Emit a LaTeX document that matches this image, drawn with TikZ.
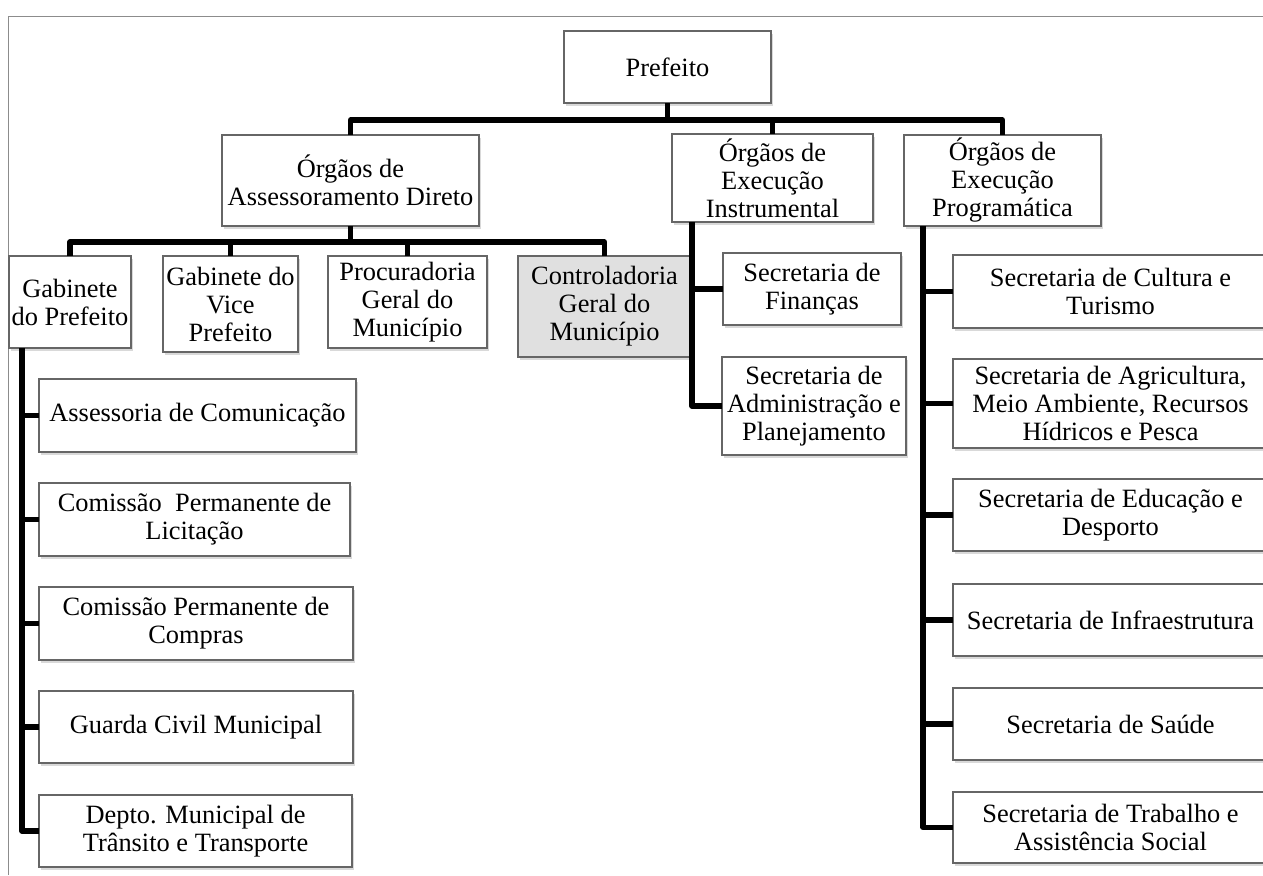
\documentclass[tikz,border=0pt]{standalone}
\usepackage{fontspec}
\setmainfont{Liberation Serif}
\usetikzlibrary{shadows}
\newcommand\orgbox[7][]{\node[box,#1, minimum width={(#5-#3)*0.5pt}, minimum height={(#6-#4)*0.5pt}] (#2) at ({(#3+#5)/2},{(#4+#6)/2}) {#7};}
\begin{document}
\begin{tikzpicture}[x=0.5pt,y=-0.5pt,
  box/.style={draw=black!60, line width=0.6pt, fill=white, align=center, inner sep=0pt, outer sep=0pt,
    font=\fontsize{13.2}{14}\selectfont,
    drop shadow={shadow xshift=1.2pt, shadow yshift=-1.3pt, opacity=0.3}},
  conn/.style={line width=2.6pt, line join=round},
  frame/.style={draw=black!45, line width=0.5pt}]
\useasboundingbox (0,0) rectangle (1263,875);
\draw[frame] (8,875) -- (8,16) -- (1263,16);

\orgbox{pref}{564}{31}{771}{103}{Prefeito}
\orgbox{ass}{222}{135}{479}{226}{Órgãos de\\Assessoramento Direto}
\orgbox{ins}{672}{134}{873}{222}{Órgãos de\\Execução\\Instrumental}
\orgbox{prog}{904}{135}{1101}{226}{Órgãos de\\Execução\\Programática}
\orgbox{gab}{9}{256}{131}{348}{Gabinete\\do Prefeito}
\orgbox{vice}{163}{256}{298}{352}{Gabinete do\\Vice\\Prefeito}
\orgbox{proc}{328}{256}{487}{348}{Procuradoria\\Geral do\\Município}
\orgbox[fill=black!12]{ctrl}{518}{256}{691}{357}{Controladoria\\Geral do\\Município}
\orgbox{fin}{723}{253}{901}{325}{Secretaria de\\Finanças}
\orgbox{adm}{722}{357}{906}{455}{Secretaria de\\Administração e\\Planejamento}
\orgbox{asc}{39}{379}{356}{452}{Assessoria de Comunicação}
\orgbox{lic}{39}{483}{350}{556}{Comissão\ \ Permanente de\\Licitação}
\orgbox{comp}{39}{587}{353}{660}{Comissão Permanente de\\Compras}
\orgbox{gcm}{39}{691}{353}{763}{Guarda Civil Municipal}
\orgbox{dmt}{39}{795}{352}{867}{Depto. Municipal de\\Trânsito e Transporte}
\orgbox{cult}{953}{255}{1268}{328}{Secretaria de Cultura e\\Turismo}
\orgbox{agr}{953}{359}{1268}{448}{Secretaria de Agricultura,\\Meio Ambiente, Recursos\\Hídricos e Pesca}
\orgbox{edu}{953}{479}{1268}{551}{Secretaria de Educação e\\Desporto}
\orgbox{inf}{953}{584}{1268}{656}{Secretaria de Infraestrutura}
\orgbox{sau}{953}{688}{1268}{760}{Secretaria de Saúde}
\orgbox{trab}{953}{792}{1268}{863}{Secretaria de Trabalho e\\Assistência Social}

% level 1
\coordinate (b1) at (0,120);
\draw[conn] (pref.south) -- (pref.south |- b1);
\draw[conn] (ass.north) -- (ass.north |- b1) -- (prog.north |- b1) -- (prog.north);
\draw[conn] (ins.north |- b1) -- (ins.north);

% level 2
\coordinate (b2) at (0,242);
\draw[conn] (ass.south) -- (ass.south |- b2);
\draw[conn] (gab.north) -- (gab.north |- b2) -- (ctrl.north |- b2) -- (ctrl.north);
\draw[conn] (vice.north |- b2) -- (vice.north);
\draw[conn] (proc.north |- b2) -- (proc.north);

% left spine
\coordinate (sL) at (22,0);
\draw[conn] (sL |- gab.south) -- (sL |- dmt.west) -- (dmt.west);
\foreach \n in {asc,lic,comp,gcm} \draw[conn] (sL |- \n.west) -- (\n.west);

% instrumental spine
\coordinate (sI) at (692,0);
\draw[conn] (sI |- ins.south) -- (sI |- adm.west) -- (adm.west);
\draw[conn] (sI |- fin.west) -- (fin.west);

% programatica spine
\coordinate (sP) at (923,0);
\draw[conn] (sP |- prog.south) -- (sP |- trab.west) -- (trab.west);
\foreach \n in {cult,agr,edu,inf,sau} \draw[conn] (sP |- \n.west) -- (\n.west);
\end{tikzpicture}
\end{document}
